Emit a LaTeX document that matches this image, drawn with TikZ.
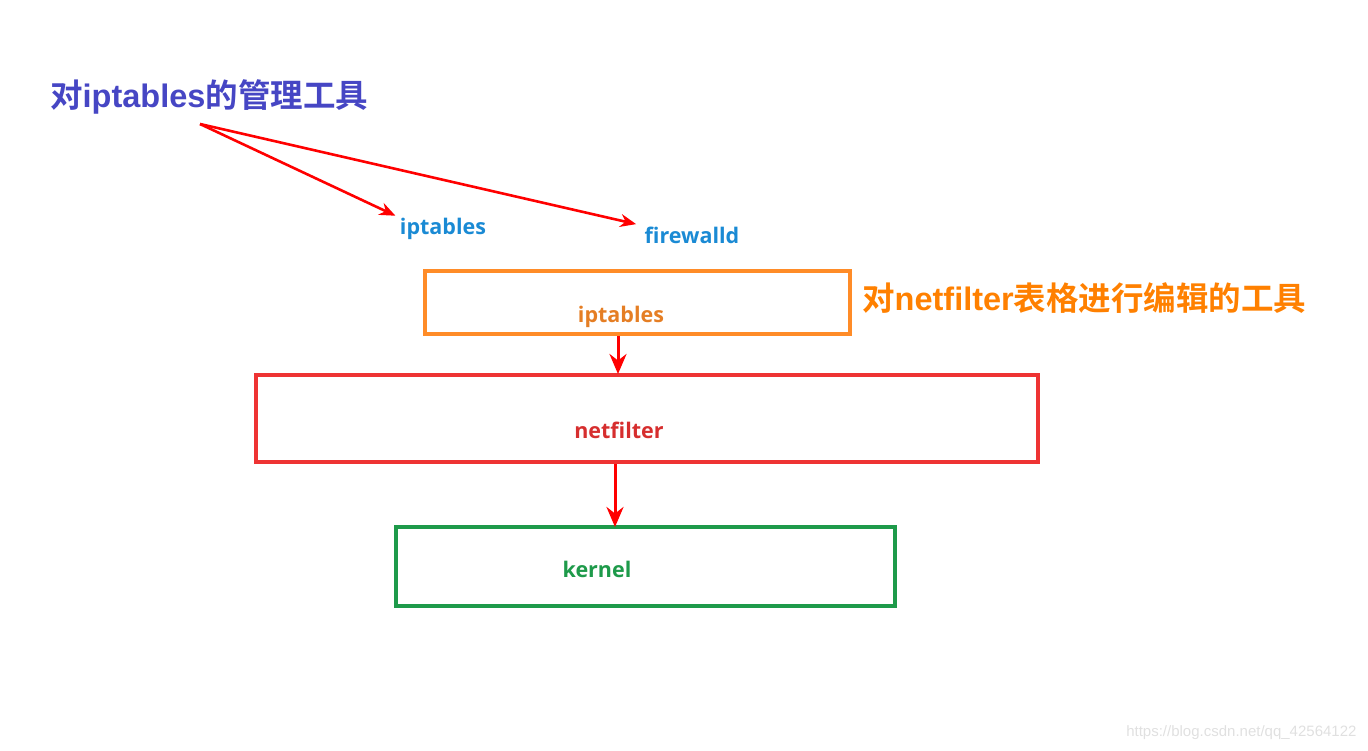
\documentclass[tikz,border=0pt]{standalone}
\usepackage{fontspec}
\setmainfont{Liberation Sans}
\newfontfamily\cjk{Noto Sans CJK SC}[BoldFont={Noto Sans CJK SC Bold}]
\newfontfamily\lbl{Open Sans}
\usetikzlibrary{arrows.meta}
\definecolor{titleblue}{HTML}{4646C4}
\definecolor{lblblue}{HTML}{1A8AD4}
\definecolor{orgbox}{HTML}{FF8C28}
\definecolor{orgtxt}{HTML}{FF8000}
\definecolor{redbox}{HTML}{EE3333}
\definecolor{grnbox}{HTML}{1E9A4A}
\definecolor{arrred}{HTML}{FF0000}
\tikzset{
  layerbox/.style={draw, line width=4pt, fill=none},
  boxtext/.style={font=\lbl\bfseries\fontsize{21.5}{24}\selectfont},
  tooltext/.style={font=\lbl\bfseries\fontsize{21.5}{24}\selectfont, text=lblblue},
  bigtext/.style={font=\bfseries\fontsize{32.5}{36}\selectfont, inner sep=0pt},
  redarrow/.style={draw=arrred, line width=2.6pt, -{Stealth[length=16pt,width=13pt]}},
  vertarrow/.style={draw=arrred, line width=3pt, -{Stealth[length=20pt,width=17pt]}}
}
\begin{document}
\begin{tikzpicture}[x=1pt,y=-1pt]
\useasboundingbox (0,0) rectangle (1368,750);
% title
\node[bigtext, text=titleblue, anchor=west] (title) at (50,97)
  {{\cjk\bfseries 对}iptables{\cjk\bfseries 的管理工具}};
\coordinate (src) at (200,124);
% tool labels
\node[tooltext] (ipt) at (443,229) {iptables};
\node[tooltext] (fwd) at (692,235) {firewalld};
\draw[redarrow] (src) -- ([xshift=-1pt,yshift=-1pt]ipt.north west);
\draw[redarrow] (src) -- ([xshift=-5pt,yshift=-1pt]fwd.north west);
% boxes
\node[layerbox, draw=orgbox, minimum width=425pt, minimum height=63pt] (obox) at (637.5,302.5) {};
\node[boxtext, text=orgbox!90!black] (otext) at (621,317) {iptables};
\node[bigtext, text=orgtxt, anchor=west] (olabel) at (862,298)
  {{\cjk\bfseries 对}netfilter{\cjk\bfseries 表格进行编辑的工具}};
\node[layerbox, draw=redbox, minimum width=782pt, minimum height=87pt] (rbox) at (647,418.5) {};
\node[boxtext, text=redbox!90!black] (rtext) at (619,430) {netfilter};
\node[layerbox, draw=grnbox, minimum width=499pt, minimum height=79pt] (gbox) at (645.5,566.5) {};
\node[boxtext, text=grnbox] (gtext) at (597,569) {kernel};
% vertical arrows
\coordinate (a1s) at (618,336);
\coordinate (a1e) at (618,374);
\coordinate (a2s) at (615,464);
\coordinate (a2e) at (615,527);
\draw[vertarrow] (a1s) -- (a1e);
\draw[vertarrow] (a2s) -- (a2e);
% watermark
\node[anchor=east, text=black!12, font=\fontsize{15}{17}\selectfont] (wm) at (1360,733) {https://blog.csdn.net/qq\_42564122};
\end{tikzpicture}
\end{document}
